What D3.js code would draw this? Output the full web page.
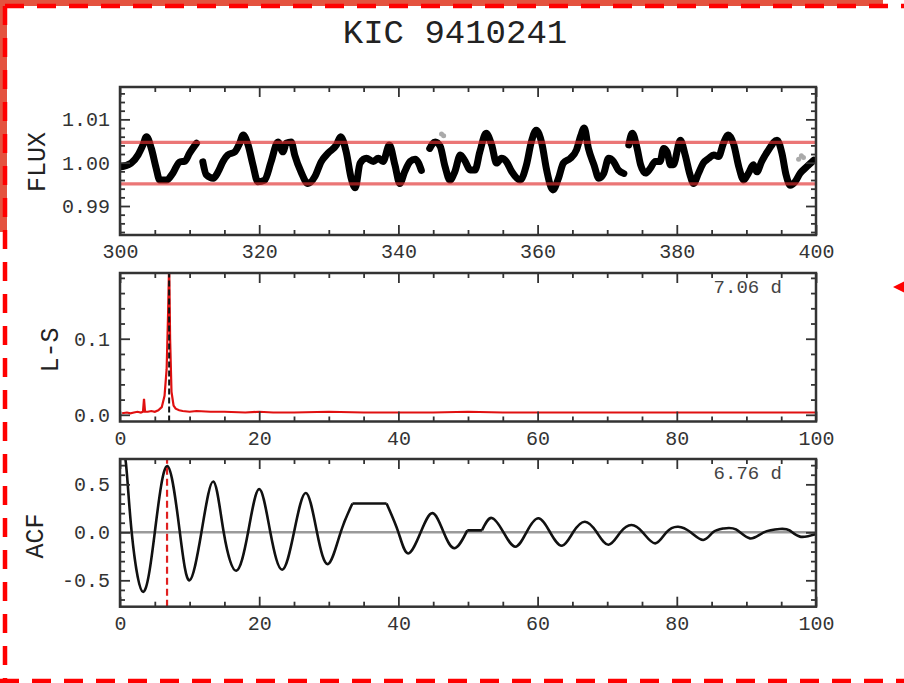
<!DOCTYPE html>
<html><head><meta charset="utf-8">
<script src="https://cdn.jsdelivr.net/npm/d3@7"></script>
<style>body{margin:0;background:#fff}svg{display:block}</style>
</head><body><svg id="c" width="904" height="683"></svg>
<script>
// ---------------- DATA ----------------
const title = "KIC 9410241";

// Light curve segments [time (d), normalised flux]
const lcSeg1 = [[300.0,0.9990],[301.6,0.9999],[302.6,1.0018],[303.3,1.0041],[303.8,1.0060],[304.5,1.0033],[305.2,0.9987],[305.7,0.9960],[306.7,0.9960],[307.6,0.9976],[308.6,1.0002],[309.3,1.0003],[310.0,1.0022],[311.0,1.0045]];
const lcSeg2 = [[311.9,1.0002],[312.4,0.9972],[313.4,0.9964],[314.1,0.9979],[314.8,1.0003],[315.5,1.0018],[316.5,1.0025],[317.2,1.0045],[317.7,1.0064],[318.4,1.0041],[319.1,0.9995],[319.8,0.9956],[320.8,0.9960],[321.7,1.0002],[322.7,1.0048],[323.4,1.0025],[323.9,1.0045],[324.6,1.0048],[325.1,1.0018],[326.0,0.9979],[327.0,0.9952],[328.0,0.9968],[328.9,1.0002],[329.9,1.0022],[331.1,1.0041],[331.7,1.0060],[332.5,1.0025],[333.2,0.9965],[333.8,0.9942],[334.5,0.9999],[335.4,1.0010],[336.4,1.0003],[337.1,1.0010],[337.8,1.0003],[338.7,1.0041],[339.5,0.9995],[340.2,0.9952],[340.9,0.9979],[341.7,1.0003],[342.4,1.0008],[342.9,0.9999],[343.3,0.9982]];
const lcSeg3 = [[344.5,1.0033],[345.3,1.0048],[346.0,1.0038],[346.7,0.9991],[347.4,0.9960],[348.1,0.9979],[348.9,1.0018],[349.6,1.0003],[350.3,0.9983],[351.0,0.9983],[351.7,1.0025],[352.6,1.0068],[353.4,1.0041],[354.1,0.9999],[354.8,1.0010],[355.5,1.0003],[356.3,0.9979],[357.5,0.9960],[358.4,0.9995],[359.1,1.0048],[359.8,1.0075],[360.6,1.0045],[361.3,0.9983],[362.2,0.9937],[363.0,0.9964],[363.7,0.9999],[364.7,1.0010],[365.6,1.0030],[366.2,1.0062],[366.7,1.0080],[367.3,1.0033],[368.1,0.9995],[368.8,0.9964],[369.5,0.9975],[370.2,1.0010],[370.9,1.0003],[371.6,0.9983],[372.4,0.9975]];
const lcSeg4 = [[373.1,1.0041],[373.6,1.0068],[374.3,1.0033],[374.8,0.9995],[375.5,0.9976],[376.2,0.9987],[376.9,1.0003],[377.6,1.0003],[378.1,1.0033],[378.6,1.0025],[379.1,0.9995],[379.5,0.9995],[380.5,1.0052],[381.2,1.0018],[381.9,0.9972],[382.4,0.9952],[383.1,0.9975],[383.8,0.9999],[384.6,1.0010],[385.3,1.0018],[386.0,1.0014],[386.7,1.0045],[387.4,1.0064],[388.2,1.0041],[388.9,0.9991],[389.6,0.9960],[390.3,0.9976],[391.0,0.9995],[391.5,0.9979],[392.2,1.0003],[393.2,1.0030],[394.4,1.0052],[395.1,1.0022],[395.7,0.9972],[396.3,0.9948],[397.0,0.9956],[397.7,0.9975],[398.7,0.9991],[399.7,1.0006]];
const lcOutliers = [[346.2,1.0066],[346.5,1.0062],[397.5,1.0008],[397.9,1.0016],[398.2,1.0012]];
const fluxBand = [0.9951, 1.0047];

// Lomb-Scargle periodogram
const lsPeriod = [0.3,1,1.5,2,2.5,3,3.3,3.45,3.6,4,4.5,5,5.5,6,6.4,6.7,6.9,7.06,7.2,7.4,7.7,8,8.5,9,10,11,13,15,18,20,22,25,30,35,40,45,50,55,60,70,80,90,100];
const lsPower  = [0.002,0.003,0.002,0.003,0.004,0.003,0.004,0.021,0.004,0.004,0.005,0.004,0.006,0.010,0.025,0.06,0.13,0.20,0.10,0.03,0.012,0.008,0.006,0.005,0.004,0.005,0.004,0.004,0.003,0.004,0.003,0.003,0.004,0.003,0.003,0.003,0.004,0.003,0.003,0.003,0.003,0.003,0.003];
const lsPeakPeriod = 7.06;
const lsLabel = "7.06 d";

// Autocorrelation function (extrema, zero crossings and flat stretches)
const acfLag   = [0,0.85,1.68,3.3,5.0,6.8,8.6,10.0,11.7,13.4,14.9,16.7,18.4,20.0,21.6,23.3,25.0,26.7,28.3,29.9,31.7,33.4,38.3,40.0,41.4,43.2,44.9,46.5,48.1,49.9,52.0,53.4,55.1,56.8,58.4,60.1,61.8,63.5,65.1,66.8,68.5,70.2,71.9,73.5,75.1,76.9,78.5,80.2,82.0,83.8,85.2,86.7,88.5,90.5,92.5,94.8,96.2,97.7,100];
const acfValue = [1.0,0.72,0,-0.62,0,0.69,0,-0.50,0,0.53,0,-0.40,0,0.45,0,-0.39,0,0.41,0,-0.33,0,0.30,0.30,0,-0.22,0,0.20,0,-0.165,0.02,0.02,0.15,0,-0.15,0,0.146,0,-0.14,0,0.11,0,-0.13,0,0.076,0,-0.115,0,0.058,0,-0.08,0,0.04,0.03,-0.063,0,0.035,0.02,-0.045,-0.02];
const acfPeakLag = 6.76;
const acfLabel = "6.76 d";

// Ticks
const fluxXTicks = [300,320,340,360,380,400];
const fluxYTicks = [0.99,1.00,1.01];
const fluxYLabels = ["0.99","1.00","1.01"];
const lagXTicks = [0,20,40,60,80,100];
const lsYTicks = [0.0,0.1];
const lsYLabels = ["0.0","0.1"];
const acfYTicks = [-0.5,0.0,0.5];
const acfYLabels = ["-0.5","0.0","0.5"];

// ---------------- DRAW ----------------
const svg = d3.select("#c");
svg.append("rect").attr("width",904).attr("height",683).attr("fill","#fff");
const FONT = "'Liberation Mono', 'DejaVu Sans Mono', monospace";
const L = 120, R = 816;

svg.append("text").attr("x",455).attr("y",43).attr("text-anchor","middle")
  .attr("font-family",FONT).attr("font-size",34).attr("fill","#222").text(title);

function addAxis(g, axisFn, scale, vals, size, labels, transform, pad) {
  const ax = axisFn(scale).tickValues(vals).tickSizeInner(size).tickSizeOuter(0).tickPadding(pad)
    .tickFormat(labels ? (d,i)=>labels[i] : () => "");
  const a = g.append("g").attr("transform",transform).call(ax);
  a.select(".domain").remove();
  a.attr("font-family",FONT).attr("font-size",20).attr("color","#333");
  a.selectAll("line").attr("stroke-width",1.8);
  return a;
}
function minor(lo, hi, step, majors) {
  return d3.range(Math.ceil(lo/step - 1e-9), Math.floor(hi/step + 1e-9) + 1)
    .map(k => +(k*step).toFixed(6))
    .filter(v => !majors.some(m => Math.abs(m - v) < step/10));
}

let clipId = 0;
function panel(cfg) {
  const g = svg.append("g");
  const x = d3.scaleLinear().domain(cfg.xd).range([L,R]);
  const y = d3.scaleLinear().domain(cfg.yd).range([cfg.bottom,cfg.top]);
  const id = "clip" + (clipId++);
  svg.append("clipPath").attr("id",id).append("rect")
    .attr("x",L).attr("y",cfg.top).attr("width",R-L).attr("height",cfg.bottom-cfg.top);
  const content = g.append("g").attr("clip-path",`url(#${id})`);
  cfg.draw(content, x, y);
  const xMin = minor(cfg.xd[0], cfg.xd[1], cfg.xMinor, cfg.xTicks);
  const yMin = minor(cfg.yd[0], cfg.yd[1], cfg.yMinor, cfg.yTicks);
  addAxis(g, d3.axisBottom, x, cfg.xTicks, -10, cfg.xTicks.map(String), `translate(0,${cfg.bottom})`, 9);
  addAxis(g, d3.axisBottom, x, xMin, -5, null, `translate(0,${cfg.bottom})`, 9);
  addAxis(g, d3.axisTop, x, cfg.xTicks, -10, null, `translate(0,${cfg.top})`, 3);
  addAxis(g, d3.axisTop, x, xMin, -5, null, `translate(0,${cfg.top})`, 3);
  addAxis(g, d3.axisLeft, y, cfg.yTicks, -10, cfg.yLabels, `translate(${L},0)`, 10);
  addAxis(g, d3.axisLeft, y, yMin, -5, null, `translate(${L},0)`, 10);
  addAxis(g, d3.axisRight, y, cfg.yTicks, -10, null, `translate(${R},0)`, 3);
  addAxis(g, d3.axisRight, y, yMin, -5, null, `translate(${R},0)`, 3);
  g.append("rect").attr("x",L).attr("y",cfg.top).attr("width",R-L).attr("height",cfg.bottom-cfg.top)
    .attr("fill","none").attr("stroke","#333").attr("stroke-width",2.5);
  g.append("text").attr("transform",`translate(${cfg.titleX},${cfg.titleY}) rotate(-90)`)
    .attr("text-anchor","middle").attr("font-family",FONT).attr("font-size",25).attr("fill","#222")
    .text(cfg.ytitle);
  if (cfg.note) {
    g.append("text").attr("x",782).attr("y",cfg.top+20).attr("text-anchor","end")
      .attr("font-family",FONT).attr("font-size",19).attr("fill","#444").text(cfg.note);
  }
}

// Panel 1: light curve
panel({
  xd:[300,400], yd:[0.98331,1.01747], top:87, bottom:235,
  xTicks:fluxXTicks, xMinor:5, yTicks:fluxYTicks, yLabels:fluxYLabels, yMinor:0.002,
  ytitle:"FLUX", titleX:45, titleY:162,
  draw:(c,x,y)=>{
    const line = d3.line().x(d=>x(d[0])).y(d=>y(d[1])).curve(d3.curveMonotoneX);
    c.selectAll("circle.out").data(lcOutliers).join("circle").attr("class","out")
      .attr("cx",d=>x(d[0])).attr("cy",d=>y(d[1])).attr("r",2.5).attr("fill","#aaa");
    [lcSeg1,lcSeg2,lcSeg3,lcSeg4].forEach(s=>{
      c.append("path").attr("d",line(s)).attr("fill","none").attr("stroke","#000")
        .attr("stroke-width",7).attr("stroke-linecap","round").attr("stroke-linejoin","round");
    });
    c.selectAll("line.band").data(fluxBand).join("line").attr("class","band")
      .attr("x1",x(300)).attr("x2",x(400)).attr("y1",d=>y(d)).attr("y2",d=>y(d))
      .attr("stroke","rgba(225,45,45,0.65)").attr("stroke-width",3.2);
  }
});

// Panel 2: Lomb-Scargle
panel({
  xd:[0,100], yd:[-0.0088,0.1864], top:273, bottom:421.5,
  xTicks:lagXTicks, xMinor:5, yTicks:lsYTicks, yLabels:lsYLabels, yMinor:0.02,
  ytitle:"L-S", titleX:58, titleY:350, note:lsLabel,
  draw:(c,x,y)=>{
    const line = d3.line().x((d,i)=>x(lsPeriod[i])).y(d=>y(d));
    c.append("path").attr("d",line(lsPower)).attr("fill","none").attr("stroke","#e01010").attr("stroke-width",2.2);
    c.append("line").attr("x1",x(lsPeakPeriod)).attr("x2",x(lsPeakPeriod)).attr("y1",421.5).attr("y2",273)
      .attr("stroke","#111").attr("stroke-width",2).attr("stroke-dasharray","6,3");
  }
});

// Panel 3: ACF
panel({
  xd:[0,100], yd:[-0.775,0.764], top:459, bottom:606.7,
  xTicks:lagXTicks, xMinor:5, yTicks:acfYTicks, yLabels:acfYLabels, yMinor:0.1,
  ytitle:"ACF", titleX:43, titleY:536, note:acfLabel,
  draw:(c,x,y)=>{
    c.append("line").attr("x1",x(0)).attr("x2",x(100)).attr("y1",y(0)).attr("y2",y(0))
      .attr("stroke","#9a9a9a").attr("stroke-width",2.5);
    // split into smooth stretches and flat stretches
    const pts = acfLag.map((l,i)=>[l, acfValue[i]]);
    const pieces = [];
    let cur = [pts[0]];
    for (let i = 1; i < pts.length; i++) {
      if (pts[i][1] === pts[i-1][1]) {
        pieces.push({p:cur, c:d3.curveNatural});
        pieces.push({p:[pts[i-1],pts[i]], c:d3.curveLinear});
        cur = [pts[i]];
      } else cur.push(pts[i]);
    }
    pieces.push({p:cur, c:d3.curveNatural});
    pieces.forEach(pc=>{
      const line = d3.line().x(d=>x(d[0])).y(d=>y(d[1])).curve(pc.c);
      c.append("path").attr("d",line(pc.p)).attr("fill","none").attr("stroke","#111")
        .attr("stroke-width",2.6).attr("stroke-linejoin","round");
    });
    c.append("line").attr("x1",x(acfPeakLag)).attr("x2",x(acfPeakLag)).attr("y1",606.7).attr("y2",459)
      .attr("stroke","#e02020").attr("stroke-width",2.2).attr("stroke-dasharray","7,4");
  }
});

// Annotation overlay (red frame)
const ov = svg.append("g");
ov.append("rect").attr("x",0).attr("y",0).attr("width",883).attr("height",6).attr("fill","#e4533f");
ov.append("rect").attr("x",0).attr("y",0).attr("width",7).attr("height",232).attr("fill","#e4533f");
const dash = {stroke:"#ff0000", w:4.5, da:"19,13"};
ov.append("line").attr("x1",5).attr("x2",904).attr("y1",6).attr("y2",6)
  .attr("stroke",dash.stroke).attr("stroke-width",dash.w).attr("stroke-dasharray",dash.da);
ov.append("line").attr("x1",5).attr("x2",5).attr("y1",6).attr("y2",683)
  .attr("stroke",dash.stroke).attr("stroke-width",dash.w).attr("stroke-dasharray",dash.da);
ov.append("line").attr("x1",0).attr("x2",904).attr("y1",681).attr("y2",681)
  .attr("stroke",dash.stroke).attr("stroke-width",dash.w).attr("stroke-dasharray",dash.da);
ov.append("path").attr("d","M893,287L904,281.5L904,292.5Z").attr("fill","#ff0000");
</script></body></html>
